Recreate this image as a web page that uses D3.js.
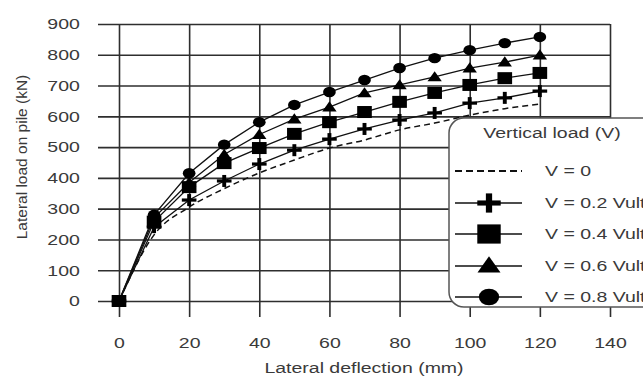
<!DOCTYPE html>
<html>
<head>
<meta charset="utf-8">
<script src="https://cdn.jsdelivr.net/npm/d3@7"></script>
<style>
  html, body { margin: 0; padding: 0; background: #fff; }
  svg { display: block; font-family: "Liberation Sans", Arial, sans-serif; }
</style>
</head>
<body>
<svg id="chart" width="643" height="376"></svg>
<script>
// ---- data ----
const deflection = [0, 10, 20, 30, 40, 50, 60, 70, 80, 90, 100, 110, 120];
const v0   = [0, 215, 305, 365, 416, 458, 497, 523, 556, 578, 604, 625, 640];
const v02  = [0, 240, 328, 390, 445, 490, 526, 559, 588, 611, 643, 660, 682];
const v04  = [0, 258, 370, 448, 497, 543, 581, 614, 647, 676, 702, 724, 741];
const v06  = [0, 270, 385, 476, 541, 591, 630, 676, 702, 728, 757, 776, 799];
const v08  = [0, 280, 415, 508, 581, 637, 679, 718, 757, 789, 815, 838, 858];
const seriesNames = ["V = 0", "V = 0.2 Vult", "V = 0.4 Vult", "V = 0.6 Vult", "V = 0.8 Vult"];
const seriesMarkers = ["none", "plus", "square", "triangle", "circle"];
const xTicks = [0, 20, 40, 60, 80, 100, 120, 140];
const yTicks = [0, 100, 200, 300, 400, 500, 600, 700, 800, 900];
const xTitle = "Lateral deflection (mm)";
const yTitle = "Lateral load on pile (kN)";
const legendTitle = "Vertical load (V)";

const seriesValues = [v0, v02, v04, v06, v08];
const series = seriesNames.map((name, i) => ({
  name, marker: seriesMarkers[i],
  points: deflection.map((d, j) => ({x: d, y: seriesValues[i][j]}))
}));

// ---- layout ----
const svg = d3.select("#chart");
const SX = 1.3;               // horizontal stretch of the reference
const textColor = "#3a3a3a";
const gridColor = "#2e2e2e";

const x = d3.scaleLinear().domain([0, 140]).range([119, 610]);
const y = d3.scaleLinear().domain([0, 900]).range([301, 24]);
const gridLeft = 98, gridBottom = 317;

// y axis / horizontal grid
const yAxis = svg.append("g")
  .attr("transform", `translate(${gridLeft},0)`)
  .call(d3.axisLeft(y).tickValues(yTicks).tickSize(-(x(140) - gridLeft)).tickPadding(14));
yAxis.select(".domain").remove();
yAxis.selectAll(".tick line").attr("stroke", gridColor).attr("stroke-width", 1.6);
yAxis.selectAll(".tick text")
  .attr("font-size", 15).attr("fill", textColor)
  .attr("transform", `scale(${SX},1)`)
  .attr("font-family", "Liberation Sans, Arial, sans-serif");

// x axis / vertical grid
const xAxis = svg.append("g")
  .attr("transform", `translate(0,${gridBottom})`)
  .call(d3.axisBottom(x).tickValues(xTicks).tickSize(-(gridBottom - y(900))).tickPadding(20));
xAxis.select(".domain").remove();
xAxis.selectAll(".tick line").attr("stroke", gridColor).attr("stroke-width", 1.6);
xAxis.selectAll(".tick text")
  .attr("font-size", 15).attr("fill", textColor)
  .attr("font-family", "Liberation Sans, Arial, sans-serif")
  .each(function() {
    const t = d3.select(this);
    t.attr("transform", `scale(${SX},1)`);
  });

// axis titles
svg.append("text")
  .attr("transform", `translate(364,373) scale(${SX},1)`)
  .attr("text-anchor", "middle")
  .attr("font-size", 15).attr("fill", textColor)
  .text(xTitle);
svg.append("text")
  .attr("transform", `translate(27,157) rotate(-90)`)
  .attr("text-anchor", "middle")
  .attr("font-size", 15.5).attr("fill", textColor)
  .text(yTitle);

// ---- markers ----
function drawMarker(g, type, cx, cy, s) {
  const m = g.append("g").attr("transform", `translate(${cx},${cy}) scale(${1.22},1)`);
  if (type === "circle") {
    m.append("circle").attr("r", 5.2 * s).attr("fill", "#000");
  } else if (type === "square") {
    m.append("rect").attr("x", -6 * s).attr("y", -6 * s)
      .attr("width", 12 * s).attr("height", 12 * s).attr("fill", "#000");
  } else if (type === "triangle") {
    m.append("path").attr("d", d3.symbol().type(d3.symbolTriangle).size(60 * s * s)()).attr("fill", "#000")
      .attr("transform", "translate(0,1)");
  } else if (type === "plus") {
    m.append("rect").attr("x", -6 * s).attr("y", -1.6 * s).attr("width", 12 * s).attr("height", 3.2 * s).attr("fill", "#000");
    m.append("rect").attr("x", -1.6 * s).attr("y", -6 * s).attr("width", 3.2 * s).attr("height", 12 * s).attr("fill", "#000");
  }
}

// ---- series ----
const lineLinear = d3.line().x(d => x(d.x)).y(d => y(d.y));
const lineSmooth = d3.line().x(d => x(d.x)).y(d => y(d.y)).curve(d3.curveMonotoneX);
const plot = svg.append("g");
series.forEach(s => {
  const dashed = s.marker === "none";
  plot.append("path")
    .datum(s.points)
    .attr("d", dashed ? lineSmooth : lineLinear)
    .attr("fill", "none")
    .attr("stroke", "#111")
    .attr("stroke-width", dashed ? 1.5 : 1.3)
    .attr("stroke-dasharray", dashed ? "6,4" : null);
});
series.forEach(s => {
  if (s.marker === "none") return;
  s.points.forEach(p => drawMarker(plot, s.marker, x(p.x), y(p.y), 1));
});

// ---- legend ----
const lg = svg.append("g");
lg.append("rect")
  .attr("x", 449).attr("y", 118).attr("width", 230).attr("height", 189)
  .attr("rx", 15).attr("ry", 15)
  .attr("fill", "#fff").attr("stroke", "#555").attr("stroke-width", 1.5);
lg.append("text")
  .attr("transform", `translate(552,138) scale(${SX},1)`)
  .attr("text-anchor", "middle").attr("font-size", 15).attr("fill", textColor)
  .text(legendTitle);
const legendY = [171, 203, 234, 266, 297];
series.forEach((s, i) => {
  const ly = legendY[i];
  lg.append("line")
    .attr("x1", 455).attr("x2", 522).attr("y1", ly).attr("y2", ly)
    .attr("stroke", "#111")
    .attr("stroke-width", s.marker === "none" ? 2 : 1.3)
    .attr("stroke-dasharray", s.marker === "none" ? "7,4" : null);
  if (s.marker !== "none") drawMarker(lg, s.marker, 489, ly, 1.6);
  lg.append("text")
    .attr("transform", `translate(545,${ly + 5}) scale(${SX},1)`)
    .attr("font-size", 15).attr("fill", textColor)
    .text(s.name);
});
</script>
</body>
</html>
